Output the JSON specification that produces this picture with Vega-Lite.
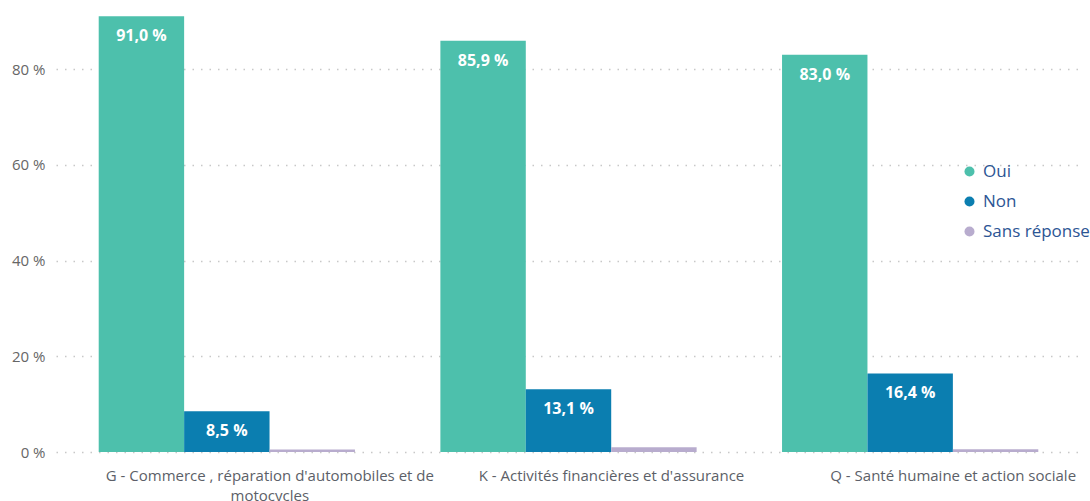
{
  "$schema": "https://vega.github.io/schema/vega-lite/v6.json",
  "width": 1025,
  "height": 447,
  "autosize": "none",
  "padding": {"left": 56, "top": 5, "right": 9, "bottom": 49},
  "background": "white",
  "config": {
    "view": {"stroke": null},
    "font": "Open Sans"
  },
  "data": {
    "values": [
      {"secteur": "G - Commerce , réparation d'automobiles et de motocycles", "reponse": "Oui", "valeur": 91.0},
      {"secteur": "G - Commerce , réparation d'automobiles et de motocycles", "reponse": "Non", "valeur": 8.5},
      {"secteur": "G - Commerce , réparation d'automobiles et de motocycles", "reponse": "Sans réponse", "valeur": 0.5},
      {"secteur": "K - Activités financières et d'assurance", "reponse": "Oui", "valeur": 85.9},
      {"secteur": "K - Activités financières et d'assurance", "reponse": "Non", "valeur": 13.1},
      {"secteur": "K - Activités financières et d'assurance", "reponse": "Sans réponse", "valeur": 1.0},
      {"secteur": "Q - Santé humaine et action sociale", "reponse": "Oui", "valeur": 83.0},
      {"secteur": "Q - Santé humaine et action sociale", "reponse": "Non", "valeur": 16.4},
      {"secteur": "Q - Santé humaine et action sociale", "reponse": "Sans réponse", "valeur": 0.6}
    ]
  },
  "encoding": {
    "x": {
      "field": "secteur",
      "type": "nominal",
      "sort": null,
      "scale": {"paddingInner": 0.25, "paddingOuter": 0.125},
      "axis": {
        "title": null,
        "domain": false,
        "ticks": false,
        "labelAngle": 0,
        "labelFontSize": 15,
        "labelColor": "#5c5f68",
        "labelPadding": 16,
        "labelOffset": 43,
        "labelLineHeight": 20,
        "labelBaseline": "top",
        "labelLimit": 0,
        "labelExpr": "datum.value == \"G - Commerce , réparation d'automobiles et de motocycles\" ? [\"G - Commerce , réparation d'automobiles et de\", \"motocycles\"] : datum.value"
      }
    },
    "xOffset": {
      "field": "reponse",
      "type": "nominal",
      "sort": ["Oui", "Non", "Sans réponse"],
      "scale": {"paddingInner": 0, "paddingOuter": 0}
    },
    "y": {
      "field": "valeur",
      "type": "quantitative",
      "scale": {"domain": [0, 93.37], "nice": false, "zero": true},
      "axis": {
        "title": null,
        "values": [0, 20, 40, 60, 80],
        "labelExpr": "datum.value + ' %'",
        "domain": false,
        "ticks": false,
        "labelFontSize": 15,
        "labelColor": "#666666",
        "labelPadding": 11,
        "grid": true,
        "gridColor": "#c8c8c8",
        "gridDash": [1.5, 7],
        "gridWidth": 1.3
      }
    }
  },
  "layer": [
    {
      "mark": {"type": "bar"},
      "encoding": {
        "color": {
          "field": "reponse",
          "type": "nominal",
          "sort": ["Oui", "Non", "Sans réponse"],
          "scale": {
            "domain": ["Oui", "Non", "Sans réponse"],
            "range": ["#4dc0ac", "#0b7eb0", "#b8acce"]
          },
          "legend": {
            "title": null,
            "orient": "none",
            "legendX": 905,
            "legendY": 158,
            "symbolType": "circle",
            "symbolSize": 100,
            "symbolStrokeWidth": 0,
            "labelFont": "Open Sans",
            "labelFontSize": 17,
            "labelColor": "#2c5594",
            "labelOffset": 5,
            "rowPadding": 12
          }
        }
      }
    },
    {
      "transform": [{"filter": "datum.reponse != 'Sans réponse'"}],
      "mark": {
        "type": "text",
        "baseline": "top",
        "dy": 12,
        "color": "white",
        "fontSize": 16,
        "fontWeight": "bold",
        "text": {"expr": "replace(format(datum.valeur, '.1f'), '.', ',') + ' %'"}
      }
    }
  ]
}
